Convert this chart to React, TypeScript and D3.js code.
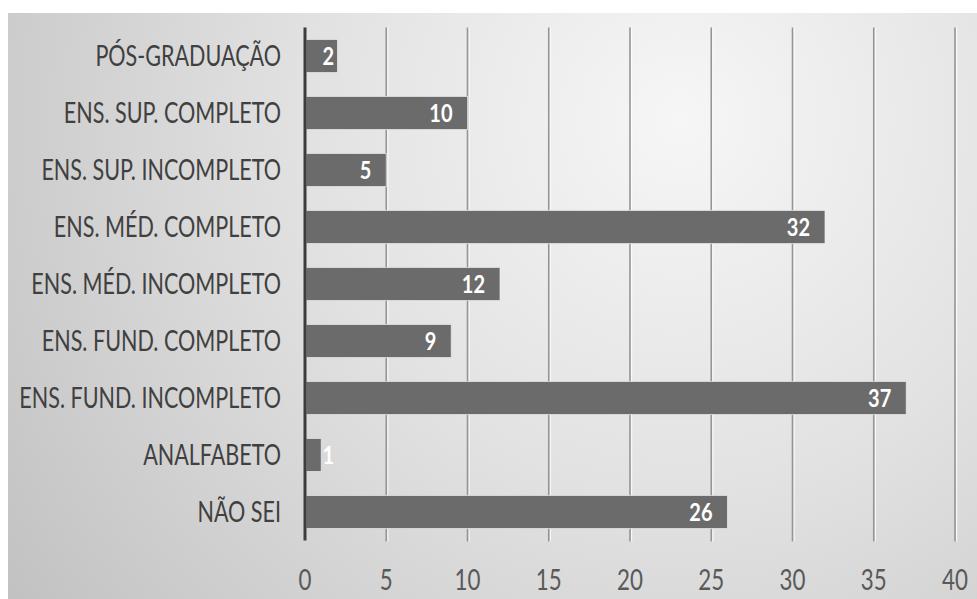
import React from "react";
import * as d3 from "d3";

// Escolaridade dos respondentes
const categories = [
  "PÓS-GRADUAÇÃO",
  "ENS. SUP. COMPLETO",
  "ENS. SUP. INCOMPLETO",
  "ENS. MÉD. COMPLETO",
  "ENS. MÉD. INCOMPLETO",
  "ENS. FUND. COMPLETO",
  "ENS. FUND. INCOMPLETO",
  "ANALFABETO",
  "NÃO SEI",
];
const values = [2, 10, 5, 32, 12, 9, 37, 1, 26];
const xTicks = [0, 5, 10, 15, 20, 25, 30, 35, 40];

const W = 977;
const H = 599;
const plot = { left: 305, right: 955, top: 27.5, bottom: 540.5 };
const FONT = "Lato, 'Open Sans', 'Liberation Sans', sans-serif";
const SQUEEZE = 0.77;

export default function App() {
  const x = d3.scaleLinear().domain([0, 40]).range([plot.left, plot.right]);
  const y = d3
    .scaleBand<string>()
    .domain(categories)
    .range([plot.top, plot.bottom])
    .paddingInner(0.42)
    .paddingOuter(0.21);

  return (
    <svg
      width={W}
      height={H}
      style={{ position: "absolute", left: 0, top: 0, display: "block" }}
    >
      <defs>
        <radialGradient
          id="bg"
          gradientUnits="userSpaceOnUse"
          cx={680}
          cy={120}
          r={820}
        >
          <stop offset="0" stopColor="#f6f6f6" />
          <stop offset="0.45" stopColor="#e2e2e2" />
          <stop offset="1" stopColor="#c2c2c2" />
        </radialGradient>
      </defs>
      <rect x={0} y={0} width={W} height={H} fill="#ffffff" />
      <rect x={8} y={13} width={W - 8} height={H - 13} fill="url(#bg)" />

      {/* vertical gridlines */}
      {xTicks
        .filter((t) => t > 0)
        .map((t) => (
          <g key={"g" + t}>
            <line
              x1={x(t) + 1.6}
              x2={x(t) + 1.6}
              y1={plot.top}
              y2={plot.bottom + 1}
              stroke="#ffffff"
              strokeOpacity={0.8}
              strokeWidth={1.2}
            />
            <line
              x1={x(t)}
              x2={x(t)}
              y1={plot.top}
              y2={plot.bottom + 1}
              stroke="#959595"
              strokeWidth={1.6}
            />
          </g>
        ))}

      {/* bars */}
      {categories.map((c, i) => (
        <rect
          key={"b" + c}
          x={x(0) + 1}
          y={y(c)!}
          width={x(values[i]) - x(0) - 1}
          height={y.bandwidth()}
          fill="#6b6b6b"
          stroke="#f0f0f0"
          strokeOpacity={0.7}
          strokeWidth={1}
        />
      ))}

      {/* value axis baseline */}
      <line
        x1={x(0)}
        x2={x(0)}
        y1={plot.top}
        y2={plot.bottom}
        stroke="#3c3c3c"
        strokeWidth={3}
      />

      {/* category labels */}
      {categories.map((c) => {
        const cy = y(c)! + y.bandwidth() / 2;
        return (
          <text
            key={"c" + c}
            transform={`translate(281,${cy + 10}) scale(${SQUEEZE},1)`}
            textAnchor="end"
            fontFamily={FONT}
            fontSize={28}
            fill="#404040"
          >
            {c}
          </text>
        );
      })}

      {/* value labels */}
      {categories.map((c, i) => {
        const cy = y(c)! + y.bandwidth() / 2;
        const lx = Math.max(x(values[i]) - 15, x(0) + 29);
        return (
          <text
            key={"v" + c}
            transform={`translate(${lx},${cy + 9}) scale(0.8,1)`}
            textAnchor="end"
            fontFamily={FONT}
            fontWeight={700}
            fontSize={25}
            fill="#ffffff"
          >
            {values[i]}
          </text>
        );
      })}

      {/* tick labels */}
      {xTicks.map((t) => (
        <text
          key={"t" + t}
          transform={`translate(${x(t)},590) scale(${SQUEEZE},1)`}
          textAnchor="middle"
          fontFamily={FONT}
          fontSize={29}
          fill="#595959"
        >
          {t}
        </text>
      ))}
    </svg>
  );
}
